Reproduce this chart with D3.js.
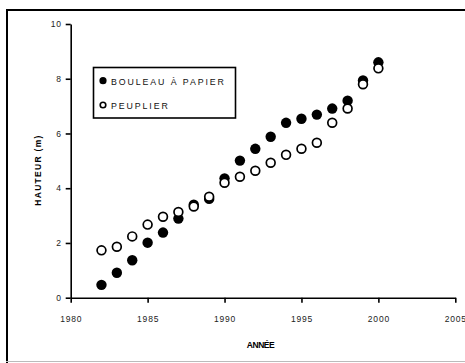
<!DOCTYPE html>
<html>
<head>
<meta charset="utf-8">
<script src="https://cdn.jsdelivr.net/npm/d3@7"></script>
<style>
  html, body { margin: 0; padding: 0; background: #fff; }
  svg { display: block; font-family: "Liberation Sans", Arial, sans-serif; }
</style>
</head>
<body>
<svg id="chart" width="465" height="363"></svg>
<script>
// Years of measurement
const years = [1982, 1983, 1984, 1985, 1986, 1987, 1988, 1989, 1990, 1991,
               1992, 1993, 1994, 1995, 1996, 1997, 1998, 1999, 2000];
// Mean height (m) of each species
const bouleau = [0.47, 0.91, 1.37, 2.01, 2.38, 2.89, 3.40, 3.61, 4.36, 5.01,
                 5.44, 5.88, 6.39, 6.54, 6.69, 6.91, 7.20, 7.94, 8.60];
const peuplier = [1.73, 1.86, 2.24, 2.67, 2.96, 3.13, 3.33, 3.69, 4.20, 4.42,
                  4.64, 4.93, 5.22, 5.44, 5.66, 6.39, 6.91, 7.80, 8.38];
const xTicks = [1980, 1985, 1990, 1995, 2000, 2005];
const yTicks = [0, 2, 4, 6, 8, 10];
const seriesNames = ["BOULEAU À PAPIER", "PEUPLIER"];

const svg = d3.select("#chart");

// Outer frame
svg.append("line").attr("x1", 6).attr("x2", 465).attr("y1", 10).attr("y2", 10)
  .attr("stroke", "#000").attr("stroke-width", 2);
svg.append("line").attr("x1", 7).attr("x2", 7).attr("y1", 9).attr("y2", 363)
  .attr("stroke", "#000").attr("stroke-width", 2);
svg.append("line").attr("x1", 6).attr("x2", 465).attr("y1", 361.5).attr("y2", 361.5)
  .attr("stroke", "#bbb").attr("stroke-width", 1);

const x = d3.scaleLinear().domain([1980, 2005]).range([70.7, 455.3]);
const y = d3.scaleLinear().domain([0, 10]).range([297.7, 24]);

// Axes
const xAxis = svg.append("g").attr("transform", `translate(0,${y(0)})`)
  .call(d3.axisBottom(x).tickValues(xTicks).tickFormat(d3.format("d")).tickSize(5).tickSizeOuter(0));
const yAxis = svg.append("g").attr("transform", `translate(${x(1980)},0)`)
  .call(d3.axisLeft(y).tickValues(yTicks).tickFormat(d3.format("d")).tickSize(5).tickSizeOuter(0));

[xAxis, yAxis].forEach(g => {
  g.select(".domain").attr("stroke", "#000").attr("stroke-width", 1.6);
  g.selectAll(".tick line").attr("stroke", "#000").attr("stroke-width", 1.6);
  g.selectAll(".tick text").attr("font-size", 8.5).attr("fill", "#222")
    .attr("font-family", "'Liberation Sans', Arial, sans-serif").attr("letter-spacing", 0.8);
});
xAxis.selectAll(".tick text").attr("dy", "1.9em");
yAxis.selectAll(".tick text").attr("x", -9);

// Axis titles
svg.append("text").attr("x", 260.5).attr("y", 348).attr("text-anchor", "middle")
  .attr("font-size", 8.5).attr("font-weight", "bold").attr("letter-spacing", -0.5)
  .text("ANNÉE");
svg.append("text").attr("transform", "translate(41,170) rotate(-90)")
  .attr("text-anchor", "middle").attr("font-size", 8.5).attr("font-weight", "bold")
  .attr("letter-spacing", 1.3).text("HAUTEUR (m)");

// Data points: filled first, open circles drawn over them
const plot = svg.append("g");
const rows = years.map((yr, i) => ({ yr, b: bouleau[i], p: peuplier[i] }));
plot.selectAll("circle.b").data(rows).join("circle").attr("class", "b")
  .attr("cx", d => x(d.yr)).attr("cy", d => y(d.b)).attr("r", 5.2)
  .attr("fill", "#000");
plot.selectAll("circle.p").data(rows).join("circle").attr("class", "p")
  .attr("cx", d => x(d.yr)).attr("cy", d => y(d.p)).attr("r", 4.4)
  .attr("fill", "#fff").attr("stroke", "#000").attr("stroke-width", 1.7);

// Legend
const lg = svg.append("g");
lg.append("rect").attr("x", 93.5).attr("y", 67.5).attr("width", 142).attr("height", 50.5)
  .attr("fill", "#fff").attr("stroke", "#000").attr("stroke-width", 1.6);
lg.append("circle").attr("cx", 103).attr("cy", 80.7).attr("r", 3.6).attr("fill", "#000");
lg.append("circle").attr("cx", 103).attr("cy", 105).attr("r", 2.8)
  .attr("fill", "#fff").attr("stroke", "#000").attr("stroke-width", 1.6);
lg.selectAll("text").data(seriesNames).join("text")
  .attr("x", 111).attr("y", (d, i) => 84.5 + i * 24)
  .attr("font-size", 8.8).attr("letter-spacing", 1.9).attr("fill", "#111")
  .text(d => d);
</script>
</body>
</html>
